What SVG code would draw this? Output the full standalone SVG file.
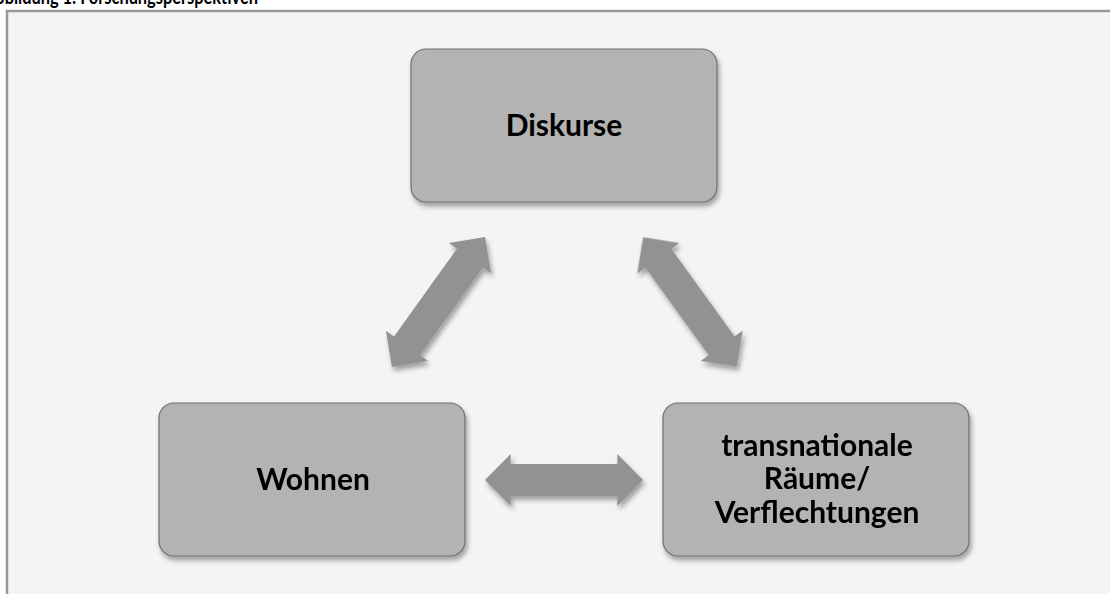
<svg xmlns="http://www.w3.org/2000/svg" width="1110" height="594" viewBox="0 0 1110 594">
<defs>
<style>
.box{fill:#b3b3b3;stroke:#6e6e6e;stroke-width:1.2}
.lbl{font-family:Lato,"Open Sans","Liberation Sans",sans-serif;font-weight:bold;font-size:30px;fill:#000;text-anchor:middle}
.arr{fill:#929292}
</style>
<filter id="sh" x="-20%" y="-20%" width="140%" height="140%">
<feDropShadow dx="2" dy="4" stdDeviation="2.5" flood-color="#000" flood-opacity="0.35"/>
</filter>
<path id="dbl" d="M-80,0 L-54,-26 L-54,-16 L54,-16 L54,-26 L80,0 L54,26 L54,16 L-54,16 L-54,26 Z"/>
</defs>
<rect width="1110" height="594" fill="#ffffff"/>
<rect x="7" y="11" width="1115" height="600" fill="#f4f4f4" stroke="#999999" stroke-width="2.5"/>
<text x="-16" y="4" textLength="274" lengthAdjust="spacingAndGlyphs" font-family="Lato,'Open Sans','Liberation Sans',sans-serif" font-weight="bold" font-size="20" fill="#000">Abbildung 1: Forschungsperspektiven</text>
<g id="connectors" class="arr" filter="url(#sh)">
<use href="#dbl" transform="translate(438.5,302) rotate(-54.4)"/>
<use href="#dbl" transform="translate(690,302) rotate(54.1)"/>
<use href="#dbl" transform="translate(564,480) scale(0.9875,1)"/>
</g>
<g id="diskurse">
<rect class="box" x="411" y="49" width="306" height="153" rx="15" filter="url(#sh)"/>
<text class="lbl" x="564" y="136">Diskurse</text>
</g>
<g id="wohnen">
<rect class="box" x="159" y="403" width="306" height="153" rx="15" filter="url(#sh)"/>
<text class="lbl" x="313" y="490">Wohnen</text>
</g>
<g id="transnational">
<rect class="box" x="663" y="403" width="306" height="153" rx="15" filter="url(#sh)"/>
<text class="lbl" x="817" y="456">transnationale</text>
<text class="lbl" x="817" y="489">Räume/</text>
<text class="lbl" x="817" y="523">Verflechtungen</text>
</g>
</svg>
